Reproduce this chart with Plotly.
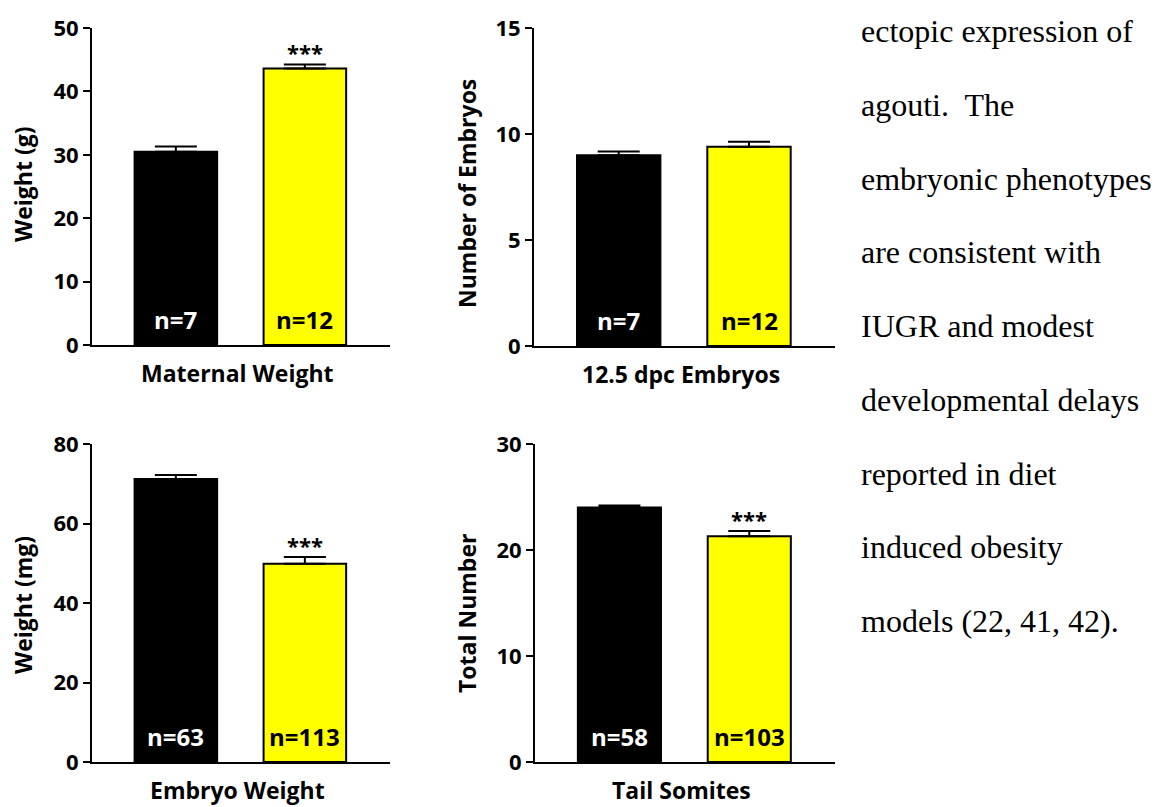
import plotly.graph_objects as go

# ---------------- data ----------------
categories = ["Control", "Agouti"]
panel_titles = ["Maternal Weight", "12.5 dpc Embryos", "Embryo Weight", "Tail Somites"]
y_titles = ["Weight (g)", "Number of Embryos", "Weight (mg)", "Total Number"]
means_control = [30.5, 9.0, 71.2, 24.0]
means_agouti = [43.6, 9.4, 49.9, 21.3]
sem_control = [0.8, 0.17, 1.0, 0.2]
sem_agouti = [0.65, 0.24, 1.7, 0.5]
n_control = [7, 7, 63, 58]
n_agouti = [12, 12, 113, 103]
sig_agouti = ["***", "", "***", "***"]
y_max = [50, 15, 80, 30]
y_dtick = [10, 5, 20, 10]
side_text = [
    "ectopic expression of",
    "agouti.  The",
    "embryonic phenotypes",
    "are consistent with",
    "IUGR and modest",
    "developmental delays",
    "reported in diet",
    "induced obesity",
    "models (22, 41, 42).",
]

# ---------------- layout geometry (pixels) ----------------
W, H = 1155, 807
panels_px = [
    dict(x0=92, x1=390, y0=28, y1=345, ytx=23, yty=184),
    dict(x0=534, x1=835, y0=28, y1=346, ytx=467, yty=194),
    dict(x0=92, x1=390, y0=444, y1=762, ytx=23, yty=605),
    dict(x0=535, x1=835, y0=444, y1=762, ytx=467, yty=614),
]

FONT = "Open Sans"
BAR_COLORS = ["#000000", "#FFFF00"]

def px_x(p):
    return p / W

def px_y(p):
    return 1 - p / H

fig = go.Figure()
annotations = []
layout_axes = {}

for i in range(4):
    g = panels_px[i]
    xa = "x" if i == 0 else f"x{i+1}"
    ya = "y" if i == 0 else f"y{i+1}"
    xkey = "xaxis" if i == 0 else f"xaxis{i+1}"
    ykey = "yaxis" if i == 0 else f"yaxis{i+1}"

    fig.add_trace(go.Bar(
        x=categories,
        y=[means_control[i], means_agouti[i]],
        width=0.64,
        marker=dict(color=BAR_COLORS, line=dict(color="black", width=2)),
        error_y=dict(type="data", symmetric=False,
                     array=[sem_control[i], sem_agouti[i]],
                     arrayminus=[0, 0],
                     thickness=2, width=21, color="black"),
        xaxis=xa, yaxis=ya, showlegend=False, hoverinfo="skip",
    ))

    layout_axes[xkey] = dict(
        domain=[px_x(g["x0"]), px_x(g["x1"])],
        anchor=ya, type="category", range=[-0.65, 1.66],
        showline=True, linecolor="black", linewidth=2,
        showticklabels=False, ticks="", showgrid=False, zeroline=False,
        fixedrange=True, automargin=False,
    )
    layout_axes[ykey] = dict(
        domain=[px_y(g["y1"]), px_y(g["y0"])],
        anchor=xa, range=[0, y_max[i]], dtick=y_dtick[i], tick0=0,
        showline=True, linecolor="black", linewidth=2,
        ticks="outside", ticklen=7, tickwidth=2, tickcolor="black",
        tickfont=dict(family=FONT, size=22, color="black", weight="bold"),
        showgrid=False, zeroline=False, fixedrange=True, automargin=False,
    )

    # n labels
    for j, (nval, col) in enumerate([(n_control[i], "white"), (n_agouti[i], "black")]):
        annotations.append(dict(
            x=categories[j], y=0, xref=xa, yref=ya, yanchor="bottom",
            yshift=7, showarrow=False, text=f"n={nval}",
            font=dict(family=FONT, size=24, color=col, weight="bold"),
        ))
    # significance
    if sig_agouti[i]:
        annotations.append(dict(
            x=categories[1], y=means_agouti[i] + sem_agouti[i], xref=xa, yref=ya,
            yanchor="bottom", yshift=-5, showarrow=False, text=sig_agouti[i],
            font=dict(family=FONT, size=22, color="black", weight="bold"),
        ))
    # x title
    annotations.append(dict(
        x=px_x((g["x0"] + g["x1"]) / 2 - 4), y=px_y(g["y1"] + 28),
        xref="paper", yref="paper", xanchor="center", yanchor="middle",
        showarrow=False, text=panel_titles[i],
        font=dict(family=FONT, size=23, color="black", weight="bold"),
    ))
    # y title
    annotations.append(dict(
        x=px_x(g["ytx"]), y=px_y(g["yty"]),
        xref="paper", yref="paper", xanchor="center", yanchor="middle",
        textangle=-90, showarrow=False, text=y_titles[i],
        font=dict(family=FONT, size=23, color="black", weight="bold"),
    ))

# side text
for k, line in enumerate(side_text):
    annotations.append(dict(
        x=px_x(859), y=px_y(31 + 73.75 * k), xref="paper", yref="paper",
        xanchor="left", yanchor="middle", showarrow=False, text=line,
        font=dict(family="Liberation Serif", size=32, color="black"),
    ))

fig.update_layout(
    width=W, height=H,
    margin=dict(l=0, r=0, t=0, b=0, pad=0, autoexpand=False),
    paper_bgcolor="white", plot_bgcolor="white",
    annotations=annotations,
    bargap=0.3,
    **layout_axes,
)

fig.write_html(
    "out.html",
    config={"displayModeBar": False, "staticPlot": True},
    post_script="document.body.style.margin='0';document.body.style.overflow='hidden';",
)
